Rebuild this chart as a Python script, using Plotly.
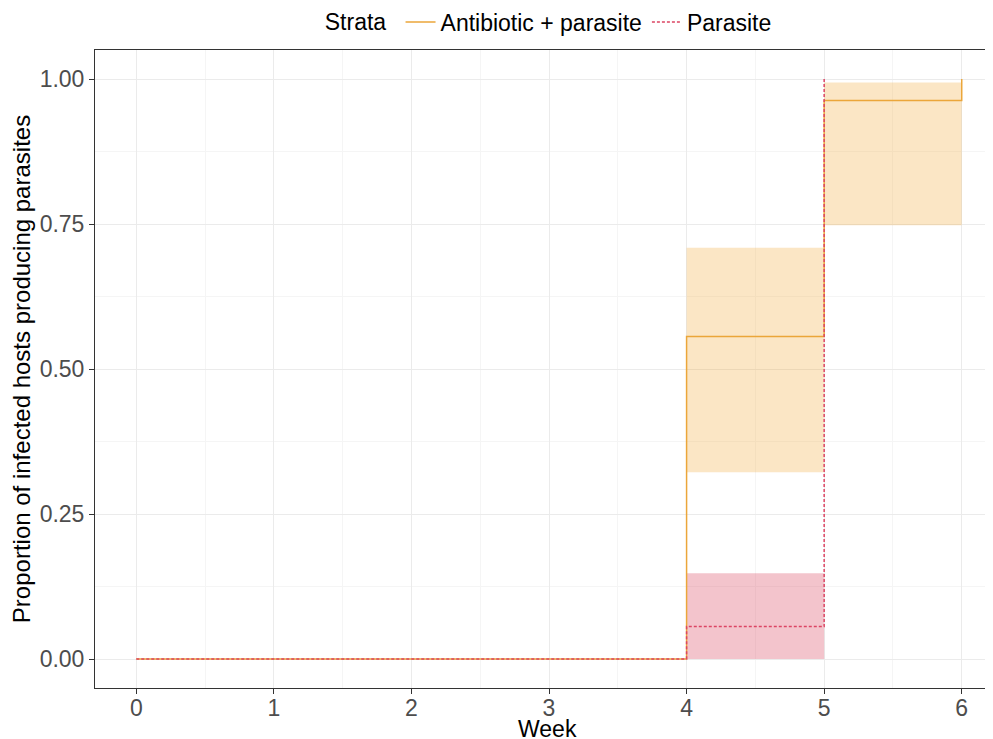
import plotly.graph_objects as go

weeks_abx = [0, 4, 5, 6]
surv_abx = [0.0, 0.556, 0.963, 1.0]
ci_weeks_abx = [4, 5, 6]
ci_low_abx = [0.322, 0.748, 0.748]
ci_high_abx = [0.709, 0.994, 0.994]

weeks_par = [0, 4, 5]
surv_par = [0.0, 0.056, 1.0]
ci_weeks_par = [4, 5]
ci_low_par = [0.0, 0.0]
ci_high_par = [0.148, 0.148]

x_ticks = [0, 1, 2, 3, 4, 5, 6]
y_ticks = [0.0, 0.25, 0.5, 0.75, 1.0]
y_tick_labels = ["0.00", "0.25", "0.50", "0.75", "1.00"]

orange = "#EBA63A"
orange_fill = "rgba(239,165,46,0.28)"
red = "#DC4563"
red_fill = "rgba(215,50,80,0.29)"

fig = go.Figure()

# CI ribbons
fig.add_trace(go.Scatter(x=ci_weeks_abx, y=ci_low_abx, mode="lines", line=dict(width=0, shape="hv"),
                         showlegend=False, hoverinfo="skip"))
fig.add_trace(go.Scatter(x=ci_weeks_abx, y=ci_high_abx, mode="lines", line=dict(width=0, shape="hv"),
                         fill="tonexty", fillcolor=orange_fill, showlegend=False, hoverinfo="skip"))
fig.add_trace(go.Scatter(x=ci_weeks_par, y=ci_low_par, mode="lines", line=dict(width=0, shape="hv"),
                         showlegend=False, hoverinfo="skip"))
fig.add_trace(go.Scatter(x=ci_weeks_par, y=ci_high_par, mode="lines", line=dict(width=0, shape="hv"),
                         fill="tonexty", fillcolor=red_fill, showlegend=False, hoverinfo="skip"))

# step curves
fig.add_trace(go.Scatter(x=weeks_abx, y=surv_abx, mode="lines", name="Antibiotic + parasite",
                         line=dict(color=orange, width=1.5, shape="hv")))
fig.add_trace(go.Scatter(x=weeks_par, y=surv_par, mode="lines", name="Parasite",
                         line=dict(color=red, width=1.5, shape="hv", dash="3px,2px")))

grid_major = "#EBEBEB"
grid_minor = "#F5F5F5"

# the page body has an 8px margin, so the figure is sized to fit inside the window
fig.update_layout(
    width=985, height=731,
    margin=dict(l=87, r=1, t=42, b=51, autoexpand=False),
    paper_bgcolor="white", plot_bgcolor="white",
    font=dict(family="Liberation Sans, Arial, sans-serif", size=23, color="#4D4D4D"),
    legend=dict(orientation="h", traceorder="normal", x=0.507, xanchor="center", y=1.044, yanchor="middle",
                title=dict(text="Strata ", font=dict(size=23, color="black")),
                font=dict(size=23, color="black"), bgcolor="rgba(0,0,0,0)"),
    xaxis=dict(range=[-0.3, 6.22], tickvals=x_ticks, ticks="outside", ticklen=5, tickcolor="#333333",
               ticklabelstandoff=-6,
               showgrid=True, gridcolor=grid_major, gridwidth=1,
               minor=dict(dtick=0.5, showgrid=True, gridcolor=grid_minor, gridwidth=1),
               zeroline=False, showline=True, linecolor="#333333", linewidth=1, mirror=True,
               automargin=False,
               tickfont=dict(size=23, color="#4D4D4D")),
    yaxis=dict(range=[-0.05, 1.05], tickvals=y_ticks, ticktext=y_tick_labels, ticks="outside", ticklen=5,
               tickcolor="#333333",
               showgrid=True, gridcolor=grid_major, gridwidth=1,
               minor=dict(dtick=0.125, tick0=0, showgrid=True, gridcolor=grid_minor, gridwidth=1),
               zeroline=False, showline=True, linecolor="#333333", linewidth=1, mirror=True,
               automargin=False,
               title=dict(text="Proportion of infected hosts producing parasites", font=dict(size=24, color="black"),
                          standoff=5),
               tickfont=dict(size=23, color="#4D4D4D")),
    annotations=[dict(text="Week", xref="paper", yref="paper", x=0.505, y=-0.064,
                      xanchor="center", yanchor="middle", showarrow=False,
                      font=dict(size=23, color="black"))],
)

fig.write_html("out.html")
